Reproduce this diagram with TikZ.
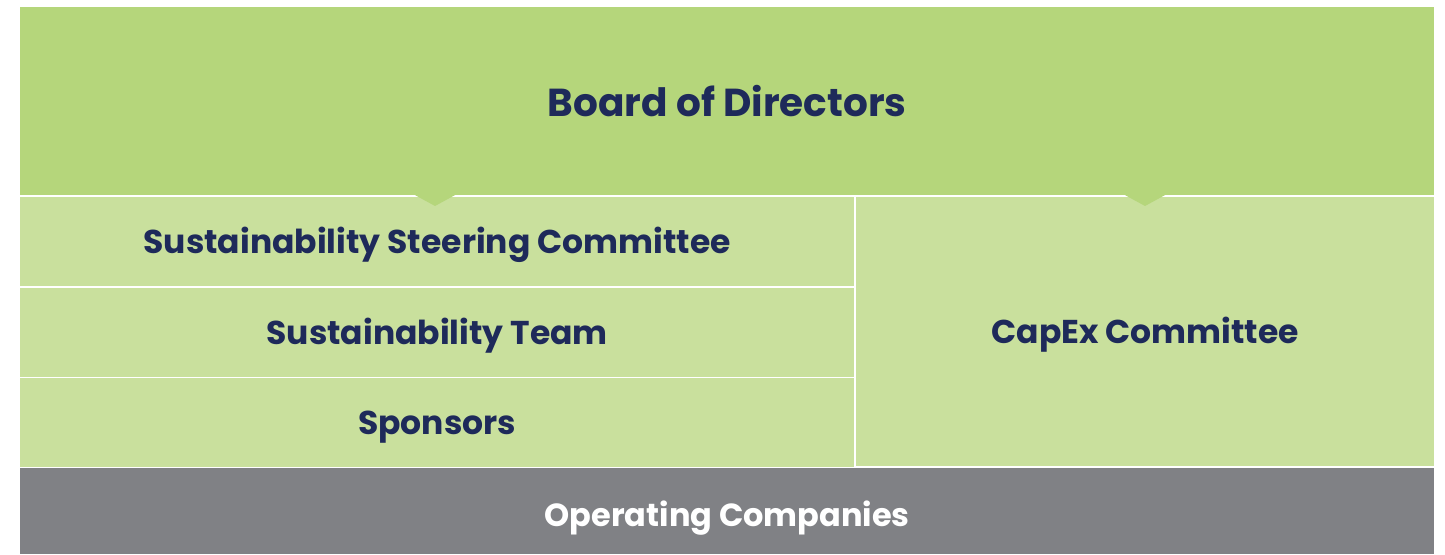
\documentclass[tikz,border=0pt]{standalone}
\usepackage{fontspec}
\setmainfont{Poppins}
\usetikzlibrary{positioning}

\definecolor{boardgreen}{HTML}{B5D67B}
\definecolor{cellgreen}{HTML}{C9E09D}
\definecolor{opgray}{HTML}{808185}
\definecolor{navy}{HTML}{1E2A5A}

\begin{document}
\begin{tikzpicture}[
    x=1pt, y=-1pt,
    every node/.style={font=\bfseries},
    board/.style={
        rectangle,
        anchor=north west,
        fill=boardgreen,
        text=navy,
        inner sep=0pt,
        minimum width=1414pt,
        minimum height=188pt,
        font=\fontsize{39}{46}\selectfont\bfseries
    },
    cell/.style={
        rectangle,
        anchor=north west,
        fill=cellgreen,
        text=navy,
        inner sep=0pt,
        minimum width=834pt,
        minimum height=89pt,
        text height=24pt,
        text depth=0pt,
        font=\fontsize{33}{40}\selectfont\bfseries
    },
    opco/.style={
        rectangle,
        anchor=north west,
        fill=opgray,
        text=white,
        inner sep=0pt,
        minimum width=1414pt,
        minimum height=86pt,
        text height=30pt,
        text depth=0pt,
        font=\fontsize{32}{38}\selectfont\bfseries
    },
    pointer/.style={fill=boardgreen}
]
\useasboundingbox (0,0) rectangle (1445,554);

% ==================== Top: board ====================
\node[board] (board) at (20,7) {Board of Directors};

% ==================== Middle: committees ====================
\node[cell] (steering) at (20,197) {Sustainability Steering Committee};
\node[cell] (team)     at (20,288) {Sustainability Team};
\node[cell] (sponsors) at (20,378) {Sponsors};
\node[cell, minimum width=578pt, minimum height=269pt] (capex) at (856,197) {CapEx Committee};

% pointers from the board into the columns
\coordinate (tipL) at (435,206);
\coordinate (tipR) at (1145,206);
\foreach \t in {tipL,tipR} {
  \fill[pointer] ([xshift=-22pt,yshift=12pt]\t) -- (\t) -- ([xshift=22pt,yshift=12pt]\t) -- cycle;
}

% ==================== Bottom: operating companies ====================
\node[opco] (opco) at (20,468) {Operating Companies};

\end{tikzpicture}
\end{document}
